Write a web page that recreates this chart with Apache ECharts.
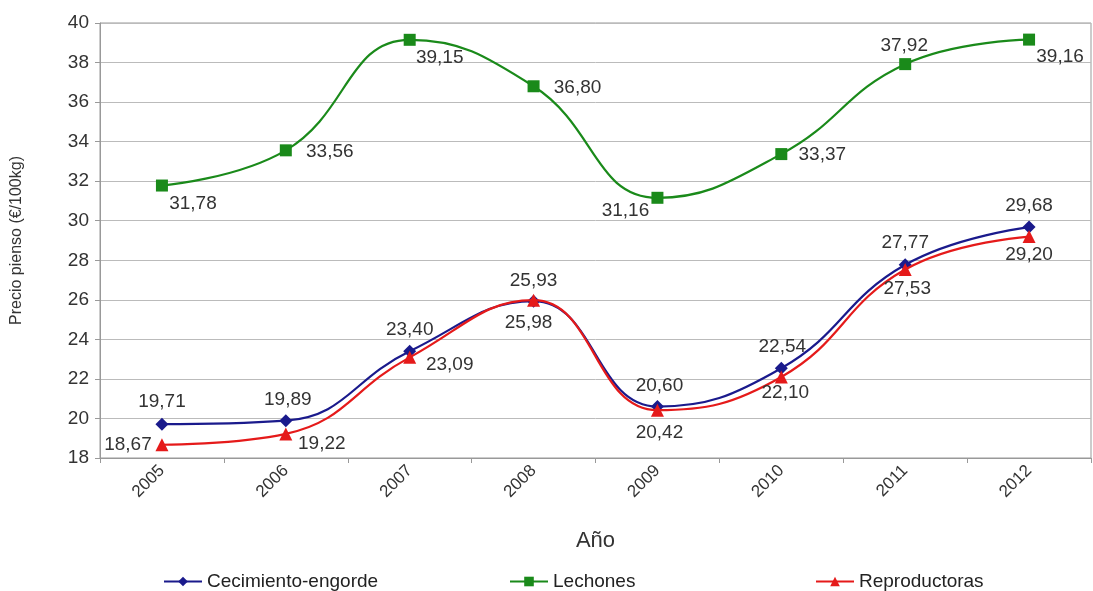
<!DOCTYPE html>
<html><head><meta charset="utf-8">
<script src="https://cdn.jsdelivr.net/npm/echarts@6/dist/echarts.min.js"></script>
<style>html,body{margin:0;padding:0;background:#fff}#c{width:1093px;height:591px}</style>
</head><body><div id="c"></div>
<script>
const years = ['2005','2006','2007','2008','2009','2010','2011','2012'];
const crecimiento = [19.71, 19.89, 23.40, 25.93, 20.60, 22.54, 27.77, 29.68];
const lechones = [31.78, 33.56, 39.15, 36.80, 31.16, 33.37, 37.92, 39.16];
const reproductoras = [18.67, 19.22, 23.09, 25.98, 20.42, 22.10, 27.53, 29.20];
const yTicks = [18, 20, 22, 24, 26, 28, 30, 32, 34, 36, 38, 40];

// label offsets (px) relative to each point
const offC = [[0,-22],[2,-21],[0,-21],[0,-20],[2,-21],[1,-21],[0,-22],[0,-21]];
const offL = [[31,18],[44,1],[30,18],[44,1],[-32,13],[41,1],[-1,-18],[31,17]];
const offR = [[-34,0],[36,10],[40,7],[-5,23],[2,23],[4,16],[2,19],[0,18]];

const fmt = v => v.toFixed(2).replace('.', ',');
function build(vals, offs) {
  return vals.map((v, i) => ({ value: v, label: { offset: offs[i] } }));
}
const FF = 'Liberation Sans, Arial, sans-serif';
const labelBase = { show: true, position: 'inside', fontSize: 19, color: '#333', fontFamily: FF, formatter: p => fmt(p.value) };

const chart = echarts.init(document.getElementById('c'));
chart.setOption({
  backgroundColor: '#fff',
  animation: false,
  textStyle: { fontFamily: FF },
  grid: { left: 100, right: 2, top: 23, bottom: 133, show: true, borderColor: '#999', borderWidth: 1 },
  legend: [
    { data: ['Cecimiento-engorde'], left: 158, top: 567, itemWidth: 38, itemHeight: 12, itemGap: 10, textStyle: { fontSize: 19, color: '#222' } },
    { data: ['Lechones'], left: 504, top: 567, itemWidth: 38, itemHeight: 12, textStyle: { fontSize: 19, color: '#222' } },
    { data: ['Reproductoras'], left: 810, top: 567, itemWidth: 38, itemHeight: 12, textStyle: { fontSize: 19, color: '#222' } }
  ],
  xAxis: {
    type: 'category', data: years, boundaryGap: true,
    name: 'Año', nameLocation: 'middle', nameGap: 72, nameTextStyle: { fontSize: 22, color: '#333' },
    axisLine: { lineStyle: { color: '#999' } },
    axisTick: { show: true, length: 5, lineStyle: { color: '#999' } },
    axisLabel: { rotate: 45, fontSize: 17, color: '#333', margin: 10 },
    splitLine: { show: false }
  },
  yAxis: {
    type: 'value', min: 18, max: 40, interval: 2,
    name: 'Precio pienso (€/100kg)', nameLocation: 'middle', nameGap: 75, nameRotate: 90,
    nameTextStyle: { fontSize: 16, color: '#333' },
    axisLine: { show: true, lineStyle: { color: '#999' } },
    axisTick: { show: true, length: 5, lineStyle: { color: '#999' } },
    axisLabel: { fontSize: 19, color: '#333', margin: 11, formatter: v => yTicks.includes(v) ? String(v) : '' },
    splitLine: { lineStyle: { color: '#bbb' } }
  },
  series: [
    { name: 'Cecimiento-engorde', type: 'line', smooth: 0.45, data: build(crecimiento, offC),
      symbol: 'diamond', symbolSize: 13, color: '#1a1a8c', lineStyle: { width: 2.2 }, label: labelBase, z: 3 },
    { name: 'Lechones', type: 'line', smooth: 0.45, data: build(lechones, offL),
      symbol: 'rect', symbolSize: 12, color: '#1a8a1a', lineStyle: { width: 2.2 }, label: labelBase },
    { name: 'Reproductoras', type: 'line', smooth: 0.45, data: build(reproductoras, offR),
      symbol: 'triangle', symbolSize: 13, color: '#e51a1a', lineStyle: { width: 2.2 }, label: labelBase, z: 4 }
  ]
});
</script></body></html>
